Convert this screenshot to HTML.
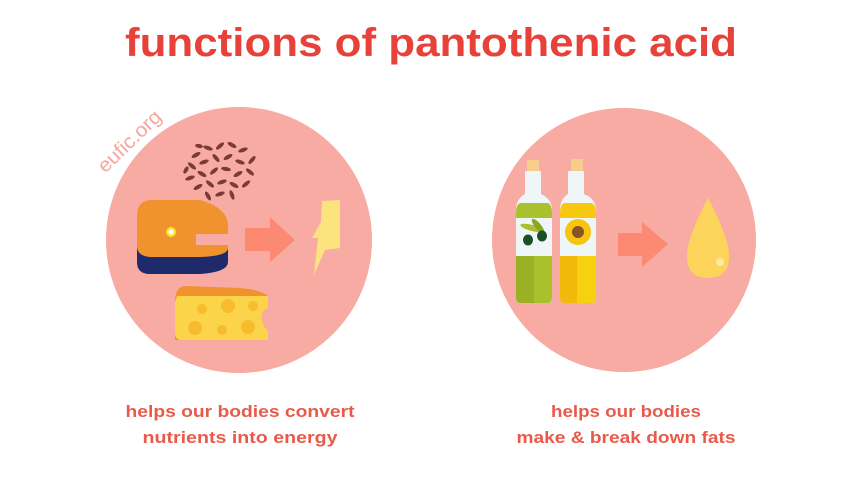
<!DOCTYPE html>
<html><head><meta charset="utf-8"><style>
html,body{margin:0;padding:0;background:#fff;}
svg{display:block;}
</style></head><body>
<svg width="860" height="485" viewBox="0 0 860 485" xmlns="http://www.w3.org/2000/svg">
<text x="431" y="56" text-anchor="middle" font-family="Liberation Sans, sans-serif" font-weight="bold" font-size="40" fill="#e8413a" textLength="612" lengthAdjust="spacingAndGlyphs">functions of pantothenic acid</text>

<circle cx="239" cy="240" r="133" fill="#f8aba2"/>
<circle cx="624" cy="240" r="132" fill="#f8aba2"/>

<text x="0" y="0" transform="translate(134,146) rotate(-44)" text-anchor="middle" font-family="Liberation Sans, sans-serif" font-size="20" fill="#f4a79d" textLength="80" lengthAdjust="spacingAndGlyphs">eufic.org</text>

<!-- rice -->
<g fill="#7a3c30">
<ellipse cx="196" cy="155" rx="5" ry="2" transform="rotate(-30 196 155)"/>
<ellipse cx="208" cy="148" rx="5" ry="2" transform="rotate(20 208 148)"/>
<ellipse cx="220" cy="146" rx="5" ry="2" transform="rotate(-40 220 146)"/>
<ellipse cx="232" cy="145" rx="5" ry="2" transform="rotate(30 232 145)"/>
<ellipse cx="243" cy="150" rx="5" ry="2" transform="rotate(-20 243 150)"/>
<ellipse cx="192" cy="166" rx="5" ry="2" transform="rotate(40 192 166)"/>
<ellipse cx="204" cy="162" rx="5" ry="2" transform="rotate(-20 204 162)"/>
<ellipse cx="216" cy="158" rx="5" ry="2" transform="rotate(50 216 158)"/>
<ellipse cx="228" cy="157" rx="5" ry="2" transform="rotate(-30 228 157)"/>
<ellipse cx="240" cy="162" rx="5" ry="2" transform="rotate(20 240 162)"/>
<ellipse cx="252" cy="160" rx="5" ry="2" transform="rotate(-50 252 160)"/>
<ellipse cx="190" cy="178" rx="5" ry="2" transform="rotate(-20 190 178)"/>
<ellipse cx="202" cy="174" rx="5" ry="2" transform="rotate(30 202 174)"/>
<ellipse cx="214" cy="171" rx="5" ry="2" transform="rotate(-40 214 171)"/>
<ellipse cx="226" cy="169" rx="5" ry="2" transform="rotate(10 226 169)"/>
<ellipse cx="238" cy="174" rx="5" ry="2" transform="rotate(-30 238 174)"/>
<ellipse cx="250" cy="172" rx="5" ry="2" transform="rotate(40 250 172)"/>
<ellipse cx="198" cy="187" rx="5" ry="2" transform="rotate(-30 198 187)"/>
<ellipse cx="210" cy="184" rx="5" ry="2" transform="rotate(40 210 184)"/>
<ellipse cx="222" cy="182" rx="5" ry="2" transform="rotate(-20 222 182)"/>
<ellipse cx="234" cy="185" rx="5" ry="2" transform="rotate(30 234 185)"/>
<ellipse cx="246" cy="184" rx="5" ry="2" transform="rotate(-40 246 184)"/>
<ellipse cx="208" cy="196" rx="5" ry="2" transform="rotate(60 208 196)"/>
<ellipse cx="220" cy="194" rx="5" ry="2" transform="rotate(-20 220 194)"/>
<ellipse cx="232" cy="195" rx="5" ry="2" transform="rotate(70 232 195)"/>
<ellipse cx="199" cy="146" rx="4" ry="2" transform="rotate(10 199 146)"/>
<ellipse cx="186" cy="170" rx="4" ry="2" transform="rotate(-60 186 170)"/>
</g>

<!-- salmon -->
<path d="M137 240 L137 262 Q137 274 150 274 L200 274 Q228 272 228 262 L228 246 Z" fill="#1f2a6b"/>
<path d="M137 232 L137 216 Q137 200 152 200 L200 200 Q228 208 228 226 L228 234 L196 234 L196 245 L228 245 L228 248 Q228 256 200 257 L150 257 Q137 256 137 246 Z" fill="#f0922e"/>
<rect x="196" y="234" width="33" height="11" fill="#f8aba2"/>
<circle cx="171" cy="232" r="5" fill="#f7e33a"/>
<circle cx="171" cy="232" r="2.5" fill="#fff"/>

<!-- arrow 1 -->
<polygon points="245,228 270,228 270,217 295,240 270,262 270,251 245,251" fill="#fc8a73"/>
<!-- lightning -->
<polygon points="322,201 340,200 340,248 325,250 314,275 318,238 312,238 321,222" fill="#fbe37d"/>

<!-- cheese -->
<path d="M186 286 L240 288 Q262 290 268 296 L268 340 L175 340 L175 300 Q176 286 186 286 Z" fill="#f0922e"/>
<path d="M177 296 L268 296 L268 308 Q260 312 262 320 Q264 328 268 330 L268 340 L182 340 Q175 340 175 333 L175 302 Z" fill="#fbd44a"/>
<g fill="#f8bb2e">
<circle cx="202" cy="309" r="5"/><circle cx="228" cy="306" r="7"/><circle cx="253" cy="306" r="5"/>
<circle cx="195" cy="328" r="7"/><circle cx="222" cy="330" r="5"/><circle cx="248" cy="327" r="7"/>
</g>
<path d="M268 308 Q260 312 262 320 Q264 328 268 330 Z" fill="#f8aba2"/>

<!-- bottle 1 -->
<rect x="527" y="160" width="12" height="12" fill="#f7cd8c"/>
<path d="M525 171 L541 171 L541 194 Q552 199 552 210 L552 298 Q552 303 547 303 L521 303 Q516 303 516 298 L516 210 Q516 199 525 194 Z" fill="#eef6f8"/>
<path d="M516 213 Q516 205 520 203 L548 203 Q552 205 552 213 L552 218 L516 218 Z" fill="#a9c12d"/>
<path d="M516 256 L552 256 L552 298 Q552 303 547 303 L521 303 Q516 303 516 298 Z" fill="#a9c12d"/>
<path d="M516 256 L534 256 L534 303 L521 303 Q516 303 516 298 Z" fill="#9bb025"/>
<ellipse cx="532" cy="228" rx="12" ry="3" fill="#a9c12d" transform="rotate(15 532 228)"/>
<ellipse cx="538" cy="226" rx="9" ry="3" fill="#8aa624" transform="rotate(50 538 226)"/>
<ellipse cx="528" cy="240" rx="5" ry="5.5" fill="#18502a"/>
<ellipse cx="542" cy="236" rx="5" ry="5.5" fill="#18502a"/>

<!-- bottle 2 -->
<rect x="571" y="159" width="12" height="13" fill="#f7cd8c"/>
<path d="M568 171 L584 171 L584 194 Q596 199 596 210 L596 298 Q596 303 591 303 L565 303 Q560 303 560 298 L560 210 Q560 199 568 194 Z" fill="#eef6f8"/>
<path d="M560 213 Q560 205 564 203 L592 203 Q596 205 596 213 L596 218 L560 218 Z" fill="#f7c80f"/>
<path d="M560 256 L596 256 L596 298 Q596 303 591 303 L565 303 Q560 303 560 298 Z" fill="#f7d00f"/>
<path d="M560 256 L577 256 L577 303 L565 303 Q560 303 560 298 Z" fill="#f2b90a"/>
<circle cx="578" cy="232" r="13" fill="#f7c50e"/>
<circle cx="578" cy="232" r="6" fill="#8a5228"/>

<!-- arrow 2 -->
<polygon points="618,233 642,233 642,222 668,244 642,267 642,256 618,256" fill="#fc8a73"/>
<!-- drop -->
<path d="M708 198 Q688 236 687 254 Q686 278 708 278 Q730 278 729 254 Q728 236 708 198 Z" fill="#fdd45b"/>
<circle cx="720" cy="262" r="4" fill="#fde9a0"/>

<g font-family="Liberation Sans, sans-serif" font-weight="bold" font-size="17" fill="#e85a4a" text-anchor="middle">
<text x="240" y="417" textLength="229" lengthAdjust="spacingAndGlyphs">helps our bodies convert</text>
<text x="240" y="443" textLength="195" lengthAdjust="spacingAndGlyphs">nutrients into energy</text>
<text x="626" y="417" textLength="150" lengthAdjust="spacingAndGlyphs">helps our bodies</text>
<text x="626" y="443" textLength="219" lengthAdjust="spacingAndGlyphs">make &amp; break down fats</text>
</g>
</svg>
</body></html>
